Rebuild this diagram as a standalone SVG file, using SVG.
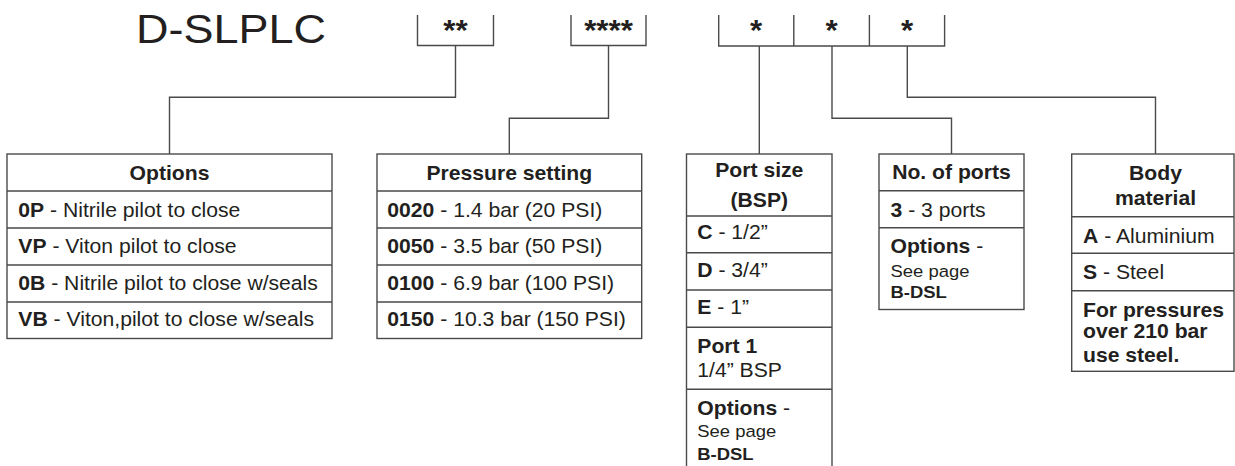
<svg xmlns="http://www.w3.org/2000/svg" width="1235" height="466" viewBox="0 0 1235 466">
<style>
text{font-family:"Liberation Sans",Arial,sans-serif;fill:#231f20;font-size:19.5px}
.b{font-weight:bold}
.sm{font-size:17px}
.h{font-weight:bold;text-anchor:middle}
.title{font-size:40px}
.star{font-size:29px;font-weight:bold;text-anchor:middle}
.box{fill:#fff;stroke:#4a4a4a;stroke-width:1.4}
.ln{fill:none;stroke:#4a4a4a;stroke-width:1.4}
</style>
<rect width="1235" height="466" fill="#fff"/>
<g id="code">
<text class="title" transform="translate(136,43.3) scale(1.125,1)">D-SLPLC</text>
<path class="ln" d="M417.5 15V45.5H493.5V15M571 15V45.5H646V15M718.7 15V46H944.6V15M793.8 15V46M869.4 15V46"/>
<text class="star" transform="translate(455.5,39.5) scale(1.08,1)">**</text>
<text class="star" transform="translate(608.5,39.5) scale(1.08,1)">****</text>
<text class="star" transform="translate(756.2,39.5) scale(1.08,1)">*</text>
<text class="star" transform="translate(831.6,39.5) scale(1.08,1)">*</text>
<text class="star" transform="translate(907,39.5) scale(1.08,1)">*</text>
</g>
<g id="connectors">
<path class="ln" d="M455.5 45.5V97.3H169.5V154"/>
<path class="ln" d="M608.5 45.5V118.3H509.3V154"/>
<path class="ln" d="M759.3 46V154"/>
<path class="ln" d="M832 46V118.3H951.5V154"/>
<path class="ln" d="M907.3 46V97.3H1155.5V154"/>
</g>
<g id="options">
<rect class="box" x="7" y="154" width="325" height="184.5"/>
<path class="ln" d="M7 191H332M7 228H332M7 265H332M7 302H332"/>
<text class="h" transform="translate(169.5,180) scale(1.085,1)">Options</text>
<text transform="translate(18.3,216.5) scale(1.085,1)"><tspan class="b">0P</tspan> - Nitrile pilot to close</text>
<text transform="translate(18.3,253.3) scale(1.085,1)"><tspan class="b">VP</tspan> - Viton pilot to close</text>
<text transform="translate(18.3,290) scale(1.085,1)"><tspan class="b">0B</tspan> - Nitrile pilot to close w/seals</text>
<text transform="translate(18.3,326) scale(1.085,1)"><tspan class="b">VB</tspan> - Viton,pilot to close w/seals</text>
</g>
<g id="pressure">
<rect class="box" x="377" y="154" width="264.7" height="184.5"/>
<path class="ln" d="M377 191H641.7M377 228H641.7M377 265H641.7M377 302H641.7"/>
<text class="h" transform="translate(509.3,180) scale(1.085,1)">Pressure setting</text>
<text transform="translate(387.3,216.5) scale(1.085,1)"><tspan class="b">0020</tspan> - 1.4 bar (20 PSI)</text>
<text transform="translate(387.3,253.3) scale(1.085,1)"><tspan class="b">0050</tspan> - 3.5 bar (50 PSI)</text>
<text transform="translate(387.3,290) scale(1.085,1)"><tspan class="b">0100</tspan> - 6.9 bar (100 PSI)</text>
<text transform="translate(387.3,326) scale(1.085,1)"><tspan class="b">0150</tspan> - 10.3 bar (150 PSI)</text>
</g>
<g id="portsize">
<rect class="box" x="686.5" y="154" width="145.5" height="330"/>
<path class="ln" d="M686.5 216H832M686.5 252.7H832M686.5 290H832M686.5 327.3H832M686.5 389.3H832"/>
<text class="h" transform="translate(759.3,176.7) scale(1.085,1)">Port size</text>
<text class="h" transform="translate(759.3,206.7) scale(1.085,1)">(BSP)</text>
<text transform="translate(697.3,239.3) scale(1.085,1)"><tspan class="b">C</tspan> - 1/2”</text>
<text transform="translate(697.3,276.7) scale(1.085,1)"><tspan class="b">D</tspan> - 3/4”</text>
<text transform="translate(697.3,314) scale(1.085,1)"><tspan class="b">E</tspan> - 1”</text>
<text class="b" transform="translate(697.3,353.3) scale(1.085,1)">Port 1</text>
<text transform="translate(697.3,376.7) scale(1.085,1)">1/4” BSP</text>
<text transform="translate(697.3,415) scale(1.085,1)"><tspan class="b">Options</tspan> -</text>
<text class="sm" transform="translate(697.3,437.3) scale(1.085,1)">See page</text>
<text class="sm b" transform="translate(697.3,460) scale(1.085,1)">B-DSL</text>
</g>
<g id="ports">
<rect class="box" x="879" y="154" width="145" height="155.5"/>
<path class="ln" d="M879 190.7H1024M879 227.7H1024"/>
<text class="h" transform="translate(951.5,179.3) scale(1.085,1)">No. of ports</text>
<text transform="translate(890.5,216.7) scale(1.085,1)"><tspan class="b">3</tspan> - 3 ports</text>
<text transform="translate(890.5,253.3) scale(1.085,1)"><tspan class="b">Options</tspan> -</text>
<text class="sm" transform="translate(890.5,276.7) scale(1.085,1)">See page</text>
<text class="sm b" transform="translate(890.5,298.3) scale(1.085,1)">B-DSL</text>
</g>
<g id="body">
<rect class="box" x="1071.7" y="154" width="162.3" height="217.3"/>
<path class="ln" d="M1071.7 216.7H1234M1071.7 253.3H1234M1071.7 290.7H1234"/>
<text class="h" transform="translate(1155.5,180) scale(1.085,1)">Body</text>
<text class="h" transform="translate(1155.5,205) scale(1.085,1)">material</text>
<text transform="translate(1083,242.7) scale(1.085,1)"><tspan class="b">A</tspan> - Aluminium</text>
<text transform="translate(1083,279.3) scale(1.085,1)"><tspan class="b">S</tspan> - Steel</text>
<text class="b" transform="translate(1083,316.7) scale(1.085,1)">For pressures</text>
<text class="b" transform="translate(1083,338.3) scale(1.085,1)">over 210 bar</text>
<text class="b" transform="translate(1083,361.7) scale(1.085,1)">use steel.</text>
</g>
</svg>
